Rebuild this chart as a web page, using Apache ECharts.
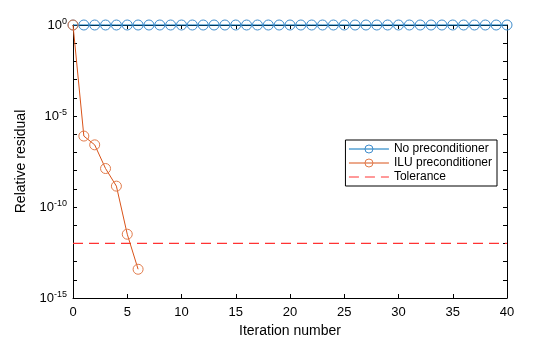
<!DOCTYPE html>
<html><head><meta charset="utf-8">
<script src="https://cdn.jsdelivr.net/npm/echarts@6/dist/echarts.min.js"></script>
<style>html,body{margin:0;padding:0;background:#fff}#c{width:560px;height:337px}</style>
</head><body><div id="c"></div>
<script>
const iterNoPrec = [0,1,2,3,4,5,6,7,8,9,10,11,12,13,14,15,16,17,18,19,20,21,22,23,24,25,26,27,28,29,30,31,32,33,34,35,36,37,38,39,40];
const resNoPrec = [1,1,1,1,1,1,1,1,1,1,1,1,1,1,1,1,1,1,1,1,1,1,1,1,1,1,1,1,1,1,1,1,1,1,1,1,1,1,1,1,1];
const iterILU = [0, 1, 2, 3, 4, 5, 6];
const resILU = [1, 7.9e-7, 2.6e-7, 1.3e-8, 1.4e-9, 3.2e-12, 3.8e-14];
const tolX = [0, 40];
const tolValue = 1e-12;
const yMajorExponents = [0, -5, -10, -15];

const FONT = 'Liberation Sans, Arial, Helvetica, sans-serif';
const chart = echarts.init(document.getElementById('c'), null, {renderer: 'canvas'});
const supFmt = v => {
  const e = Math.round(Math.log10(v));
  return yMajorExponents.includes(e) ? '10{sup|' + e + '}' : '';
};
const common = () => ({
  axisLine: {show: true, onZero: false, lineStyle: {color: '#000', width: 1}},
  axisTick: {show: true, inside: true, length: 4, lineStyle: {color: '#000', width: 1}},
  minorTick: {show: false},
  splitLine: {show: false}
});
chart.setOption({
  animation: false,
  grid: {left: 73, right: 53, top: 25, bottom: 39, containLabel: false, outerBoundsMode: 'none'},
  legend: {
    right: 63, top: 140, orient: 'vertical', itemGap: 2, itemWidth: 40, itemHeight: 10,
    backgroundColor: '#fff', borderColor: '#000', borderWidth: 1, padding: [3, 5, 3, 3],
    textStyle: {fontFamily: FONT, fontSize: 12, color: '#000'},
    lineStyle: {width: 1},
    itemStyle: {borderWidth: 1},
    data: ['No preconditioner', 'ILU preconditioner', {name: 'Tolerance', itemStyle: {opacity: 0}}]
  },
  xAxis: [
    Object.assign({type: 'value', min: 0, max: 40, interval: 5, position: 'bottom',
      name: 'Iteration number', nameLocation: 'middle', nameGap: 20,
      nameTextStyle: {fontFamily: FONT, fontSize: 14, color: '#000'},
      axisLabel: {fontFamily: FONT, fontSize: 13, color: '#000', margin: 8}}, common()),
    Object.assign({type: 'value', min: 0, max: 40, interval: 5, position: 'top',
      axisLabel: {show: false}}, common())
  ],
  yAxis: [
    Object.assign({type: 'log', logBase: 10, min: 1e-15, max: 1, interval: 1, position: 'left',
      name: 'Relative residual', nameLocation: 'middle', nameGap: 40, nameRotate: 90,
      nameTextStyle: {fontFamily: FONT, fontSize: 14, color: '#000'},
      axisLabel: {fontFamily: FONT, fontSize: 13, color: '#000', margin: 6, formatter: supFmt,
        rich: {sup: {fontFamily: FONT, fontSize: 9, verticalAlign: 'top', padding: [0, 0, 7, 0], color: '#000'}}}}, common()),
    Object.assign({type: 'log', logBase: 10, min: 1e-15, max: 1, interval: 1, position: 'right',
      axisLabel: {show: false}}, common())
  ],
  series: [
    {name: 'No preconditioner', type: 'line', clip: false, showAllSymbol: true,
      data: iterNoPrec.map((x, i) => [x, resNoPrec[i]]),
      lineStyle: {width: 1, color: '#0072BD'}, symbol: 'circle', symbolSize: 10,
      itemStyle: {color: 'rgba(255,255,255,0)', borderColor: '#3D8BCB', borderWidth: 1}, z: 5},
    {name: 'ILU preconditioner', type: 'line', clip: false, showAllSymbol: true,
      data: iterILU.map((x, i) => [x, resILU[i]]),
      lineStyle: {width: 1, color: '#D95319'}, symbol: 'circle', symbolSize: 10,
      itemStyle: {color: 'rgba(255,255,255,0)', borderColor: '#E07A4A', borderWidth: 1}, z: 6},
    {name: 'Tolerance', type: 'line', clip: false,
      data: tolX.map(x => [x, tolValue]),
      lineStyle: {width: 1.2, color: '#FF3333', type: [10, 6]}, symbol: 'none',
      itemStyle: {color: '#FF3333'}, z: 4}
  ]
});
</script></body></html>
